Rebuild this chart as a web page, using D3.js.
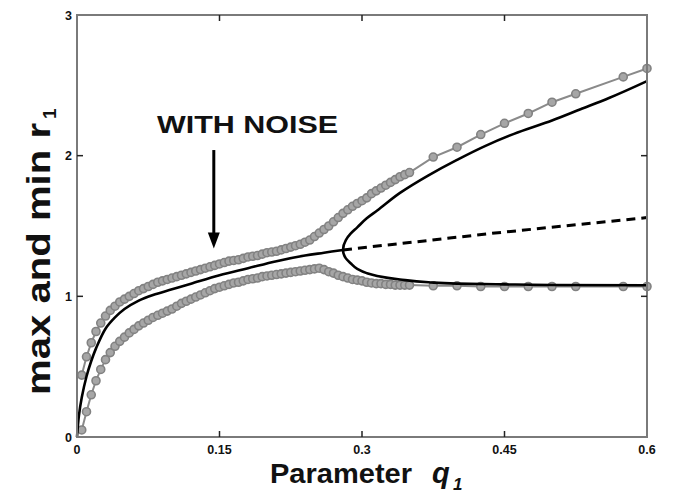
<!DOCTYPE html>
<html>
<head>
<meta charset="utf-8">
<script src="https://cdn.jsdelivr.net/npm/d3@7"></script>
<style>
  html, body { margin: 0; padding: 0; background: #fff; }
  svg { display: block; }
  text { font-family: "Liberation Sans", Arial, Helvetica, sans-serif; font-weight: bold; }
</style>
</head>
<body>
<svg id="chart" width="680" height="493"></svg>
<script>
// ---------- DATA ----------
const qTicks = [0, 0.15, 0.3, 0.45, 0.6];
const qTickLabels = ["0", "0.15", "0.3", "0.45", "0.6"];
const rTicks = [0, 1, 2, 3];
const rTickLabels = ["0", "1", "2", "3"];

// deterministic model: stable branch before bifurcation
const stableQ = [0, 0.002, 0.005, 0.01, 0.015, 0.02, 0.03, 0.04, 0.05, 0.065, 0.08, 0.1, 0.12, 0.15, 0.18, 0.21, 0.24, 0.26, 0.28];
const stableR = [0, 0.15, 0.28, 0.43, 0.54, 0.63, 0.77, 0.85, 0.91, 0.97, 1.01, 1.05, 1.09, 1.15, 1.20, 1.25, 1.29, 1.31, 1.33];

// max branch after bifurcation
const maxBranchQ = [0.28, 0.283, 0.288, 0.295, 0.305, 0.316, 0.34, 0.37, 0.40, 0.43, 0.46, 0.50, 0.53, 0.56, 0.60];
const maxBranchR = [1.33, 1.40, 1.445, 1.49, 1.555, 1.61, 1.735, 1.86, 1.97, 2.07, 2.155, 2.25, 2.33, 2.41, 2.53];

// min branch after bifurcation
const minBranchQ = [0.28, 0.283, 0.288, 0.295, 0.305, 0.316, 0.34, 0.37, 0.40, 0.45, 0.50, 0.60];
const minBranchR = [1.33, 1.27, 1.235, 1.195, 1.165, 1.145, 1.12, 1.10, 1.09, 1.085, 1.081, 1.079];

// unstable equilibrium (dashed)
const unstableQ = [0.28, 0.44, 0.60];
const unstableR = [1.33, 1.45, 1.56];

// with noise: max of r1
const noiseMaxQ = [0.005, 0.01, 0.015, 0.02, 0.025, 0.03, 0.035, 0.04, 0.045, 0.05,
  0.055, 0.06, 0.065, 0.07, 0.075, 0.08, 0.085, 0.09, 0.095, 0.1,
  0.105, 0.11, 0.115, 0.12, 0.125, 0.13, 0.135, 0.14, 0.145, 0.15,
  0.155, 0.16, 0.165, 0.17, 0.175, 0.18, 0.185, 0.19, 0.195, 0.2,
  0.205, 0.21, 0.215, 0.22, 0.225, 0.23, 0.235, 0.24, 0.245, 0.25,
  0.255, 0.26, 0.265, 0.27, 0.275, 0.28, 0.285, 0.29, 0.295, 0.3,
  0.305, 0.31, 0.315, 0.32, 0.325, 0.33, 0.335, 0.34, 0.345, 0.35,
  0.375, 0.4, 0.425, 0.45, 0.475, 0.5, 0.525, 0.575, 0.6];
const noiseMaxR = [0.44, 0.57, 0.67, 0.75, 0.81, 0.86, 0.90, 0.93, 0.96, 0.98,
  1.00, 1.02, 1.04, 1.055, 1.07, 1.085, 1.10, 1.11, 1.12, 1.13,
  1.14, 1.15, 1.16, 1.17, 1.18, 1.19, 1.20, 1.21, 1.22, 1.23,
  1.24, 1.25, 1.255, 1.26, 1.27, 1.28, 1.285, 1.29, 1.30, 1.31,
  1.315, 1.32, 1.33, 1.34, 1.35, 1.36, 1.37, 1.385, 1.40, 1.425,
  1.45, 1.475, 1.50, 1.53, 1.56, 1.59, 1.615, 1.64, 1.66, 1.68,
  1.70, 1.73, 1.75, 1.77, 1.79, 1.81, 1.83, 1.85, 1.865, 1.88,
  1.99, 2.06, 2.15, 2.23, 2.30, 2.38, 2.44, 2.56, 2.62];

// with noise: min of r1
const noiseMinQ = noiseMaxQ.slice();
const noiseMinR = [0.05, 0.18, 0.30, 0.40, 0.48, 0.55, 0.60, 0.645, 0.68, 0.71,
  0.74, 0.765, 0.79, 0.81, 0.83, 0.85, 0.865, 0.88, 0.895, 0.91,
  0.93, 0.95, 0.965, 0.98, 0.995, 1.01, 1.025, 1.04, 1.055, 1.065,
  1.075, 1.085, 1.095, 1.10, 1.11, 1.12, 1.125, 1.13, 1.14, 1.145,
  1.15, 1.155, 1.16, 1.165, 1.17, 1.175, 1.18, 1.185, 1.19, 1.195,
  1.20, 1.19, 1.175, 1.165, 1.15, 1.14, 1.13, 1.12, 1.115, 1.11,
  1.10, 1.095, 1.09, 1.09, 1.085, 1.085, 1.08, 1.08, 1.08, 1.08,
  1.075, 1.075, 1.07, 1.07, 1.07, 1.07, 1.07, 1.07, 1.07];

// annotation
const noteText = "WITH NOISE";
const arrowQ = 0.144;
const arrowR = [2.04, 1.34];

// ---------- LAYOUT ----------
const svg = d3.select("#chart");
const pLeft = 77, pRight = 647, pTop = 15, pBottom = 437;
const x = d3.scaleLinear().domain([0, 0.6]).range([pLeft, pRight]);
const y = d3.scaleLinear().domain([0, 3]).range([pBottom, pTop]);

const toPts = (qs, rs) => qs.map((q, i) => [q, rs[i]]);
const line = d3.line().x(d => x(d[0])).y(d => y(d[1]));
const smooth = d3.line().x(d => x(d[0])).y(d => y(d[1])).curve(d3.curveCatmullRom.alpha(0.5));
const smoothV = d3.line().x(d => x(d[0])).y(d => y(d[1])).curve(d3.curveMonotoneY);

// ---------- NOISE SERIES (gray) ----------
function noiseSeries(qs, rs) {
  const pts = toPts(qs, rs);
  svg.append("path").attr("d", line(pts))
    .attr("fill", "none").attr("stroke", "#8a8a8a").attr("stroke-width", 2);
  svg.append("g").selectAll("circle").data(pts).join("circle")
    .attr("cx", d => x(d[0])).attr("cy", d => y(d[1])).attr("r", 4)
    .attr("fill", "#a6a6a6").attr("stroke", "#828282").attr("stroke-width", 1.6);
}
noiseSeries(noiseMaxQ, noiseMaxR);
noiseSeries(noiseMinQ, noiseMinR);

// ---------- DETERMINISTIC CURVES (black) ----------
svg.append("path").attr("d", smooth(toPts(stableQ, stableR)))
  .attr("fill", "none").attr("stroke", "#000").attr("stroke-width", 2.6);
// pitchfork: max branch (reversed) joined to min branch at the bifurcation point
const forkPts = toPts(maxBranchQ, maxBranchR).reverse()
  .concat(toPts(minBranchQ, minBranchR).slice(1));
svg.append("path").attr("d", smoothV(forkPts))
  .attr("fill", "none").attr("stroke", "#000").attr("stroke-width", 2.6);
svg.append("path").attr("d", line(toPts(unstableQ, unstableR)))
  .attr("fill", "none").attr("stroke", "#000").attr("stroke-width", 3)
  .attr("stroke-dasharray", "9,6");

// ---------- FRAME & AXES ----------
svg.append("rect").attr("x", pLeft).attr("y", pTop)
  .attr("width", pRight - pLeft).attr("height", pBottom - pTop)
  .attr("fill", "none").attr("stroke", "#7a7a7a").attr("stroke-width", 2);

const tickLen = 6;
const gT = svg.append("g");
qTicks.slice(1, -1).forEach(q => {
  gT.append("line").attr("x1", x(q)).attr("x2", x(q)).attr("y1", pBottom).attr("y2", pBottom - tickLen)
    .attr("stroke", "#222").attr("stroke-width", 1.5);
  gT.append("line").attr("x1", x(q)).attr("x2", x(q)).attr("y1", pTop).attr("y2", pTop + tickLen)
    .attr("stroke", "#222").attr("stroke-width", 1.5);
});
rTicks.slice(1, -1).forEach(r => {
  gT.append("line").attr("x1", pLeft).attr("x2", pLeft + tickLen).attr("y1", y(r)).attr("y2", y(r))
    .attr("stroke", "#222").attr("stroke-width", 1.5);
  gT.append("line").attr("x1", pRight).attr("x2", pRight - tickLen).attr("y1", y(r)).attr("y2", y(r))
    .attr("stroke", "#222").attr("stroke-width", 1.5);
});

qTicks.forEach((q, i) => {
  svg.append("text").attr("x", x(q)).attr("y", pBottom + 17)
    .attr("text-anchor", "middle").attr("font-size", 12.5).attr("fill", "#111")
    .text(qTickLabels[i]);
});
rTicks.forEach((r, i) => {
  svg.append("text").attr("x", pLeft - 5).attr("y", y(r) + 4.5)
    .attr("text-anchor", "end").attr("font-size", 12.5).attr("fill", "#111")
    .text(rTickLabels[i]);
});

// ---------- TITLES ----------
svg.append("text").attr("x", 270).attr("y", 483).attr("font-size", 28.5).attr("fill", "#111")
  .attr("textLength", 142).attr("lengthAdjust", "spacingAndGlyphs").text("Parameter");
svg.append("text").attr("x", 432).attr("y", 483).attr("font-size", 29).attr("fill", "#111")
  .attr("font-style", "italic").text("q");
svg.append("text").attr("x", 453).attr("y", 490).attr("font-size", 17).attr("fill", "#111")
  .attr("font-style", "italic").text("1");

const yt = svg.append("g").attr("transform", "translate(50,395) rotate(-90)");
yt.append("text").attr("x", 0).attr("y", 0).attr("font-size", 33).attr("fill", "#111")
  .attr("textLength", 272).attr("lengthAdjust", "spacingAndGlyphs").text("max and min r");
yt.append("text").attr("x", 276).attr("y", 6).attr("font-size", 19).attr("fill", "#111").text("1");

// ---------- ANNOTATION ----------
svg.append("text").attr("x", 157).attr("y", 133).attr("font-size", 24.5).attr("fill", "#111")
  .attr("textLength", 181).attr("lengthAdjust", "spacingAndGlyphs").text(noteText);
svg.append("line").attr("x1", x(arrowQ)).attr("x2", x(arrowQ))
  .attr("y1", y(arrowR[0])).attr("y2", y(arrowR[1]) - 12)
  .attr("stroke", "#000").attr("stroke-width", 3);
const tipX = x(arrowQ), tipY = y(arrowR[1]);
svg.append("path")
  .attr("d", `M${tipX},${tipY} L${tipX - 6},${tipY - 16} L${tipX + 6},${tipY - 16} Z`)
  .attr("fill", "#000");
</script>
</body>
</html>
